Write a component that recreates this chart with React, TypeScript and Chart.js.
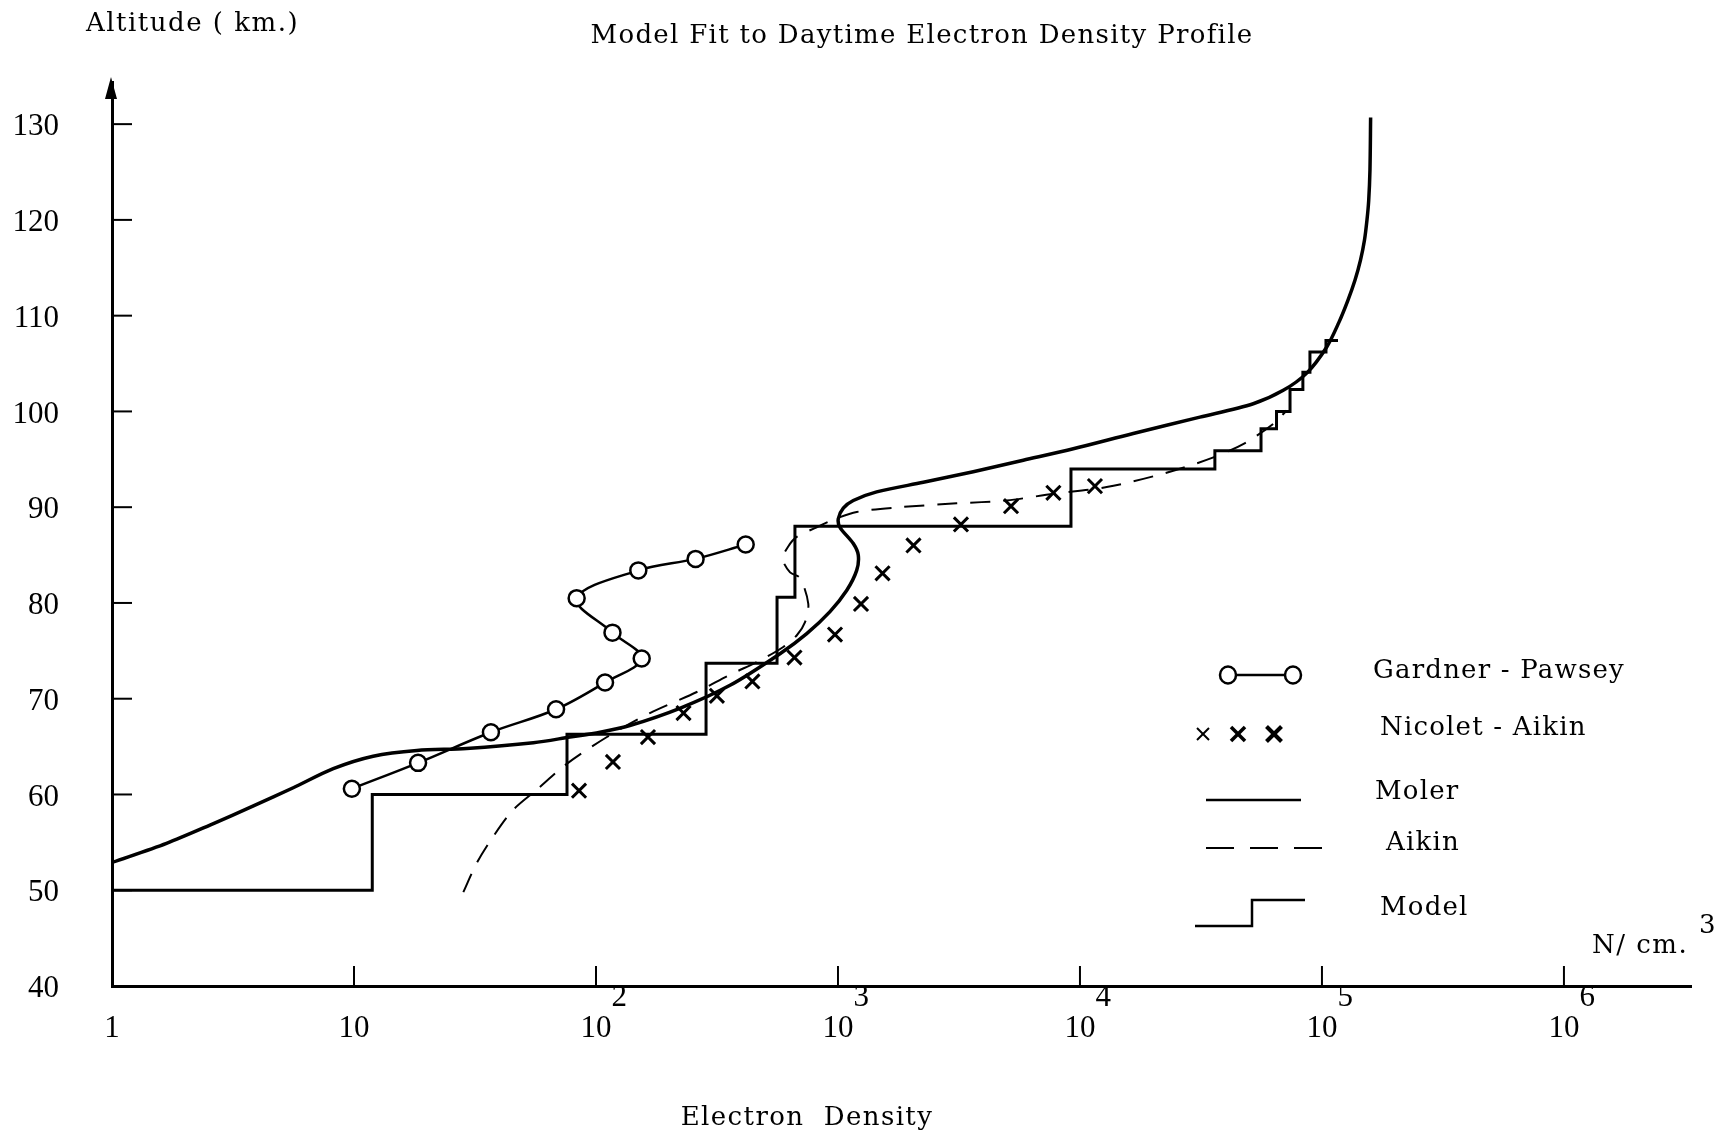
import { useEffect, useRef } from "react";
import { Chart, registerables } from "chart.js";

Chart.register(...registerables);

const W = 1722;
const H = 1137;

// ---- axis ticks ----
const xTickValues = [1, 10, 100, 1000, 10000, 100000, 1000000];
const xTickBases = ["1", "10", "10", "10", "10", "10", "10"];
const xTickExponents = ["", "", "2", "3", "4", "5", "6"];
const yTickValues = [40, 50, 60, 70, 80, 90, 100, 110, 120, 130];

// ---- texts ----
const titleText = "Model Fit to Daytime Electron Density Profile";
const yAxisTitle = "Altitude ( km.)";
const xAxisTitle = "Electron  Density";
const unitText = "N/ cm.";
const unitExp = "3";
const legendLabels = ["Gardner - Pawsey", "Nicolet - Aikin", "Moler", "Aikin", "Model"];

// ---- Gardner - Pawsey (circles joined by a line) ----
const gardnerDensity = [9.8, 18.4, 36.8, 68.4, 109, 154.5, 117, 83.2, 149.6, 258, 415.6];
const gardnerAltitude = [60.6, 63.3, 66.5, 68.9, 71.7, 74.2, 76.9, 80.5, 83.4, 84.6, 86.1];

// ---- Nicolet - Aikin (crosses) ----
const nicoletDensity = [85.1, 117.5, 164, 230, 316, 443, 661, 972, 1245, 1528, 2051, 3222, 5188, 7766, 11530];
const nicoletAltitude = [60.4, 63.4, 66.0, 68.5, 70.3, 71.8, 74.3, 76.7, 79.9, 83.1, 86.0, 88.2, 90.1, 91.5, 92.2];

// ---- Moler (solid curve) ----
const molerDensity = [
  1, 1.68, 2.54, 3.84, 5.61, 8.21, 12.0, 18.2, 29.2, 55.1, 78.1, 104, 138, 222, 358, 576, 743, 927,
  1086, 1195, 1213, 1157, 1019, 1003, 1052, 1157, 1445, 2253, 3622, 5833, 9384, 16600, 31300, 52000,
  69200, 86500, 104500, 117500, 128000, 136900, 144300, 149900, 153500, 156000, 157900, 158900,
];
const molerAltitude = [
  52.9, 54.9, 56.8, 58.8, 60.7, 62.7, 64.0, 64.6, 64.8, 65.4, 66.0, 66.5, 67.2, 69.0, 71.4, 74.7, 76.8, 79.1,
  81.3, 83.4, 85.0, 86.2, 87.9, 88.8, 89.9, 90.7, 91.6, 92.6, 93.7, 94.9, 96.1, 97.7, 99.4, 100.8,
  102.2, 104.0, 106.7, 109.3, 111.6, 113.7, 115.8, 117.9, 120.0, 122.0, 125.2, 130.7,
];

// ---- Aikin (dashed curve) ----
const aikinDensity = [
  28.3, 32.1, 37.6, 45.5, 56.9, 75.7, 111, 167, 261, 358, 476, 594, 675, 731, 754, 697, 634, 591, 623,
  675, 817, 957, 1195, 1804, 3092, 4979, 7762, 12900, 22800, 35600, 48100, 62900, 71500,
];
const aikinAltitude = [
  49.8, 52.8, 55.6, 58.4, 60.5, 63.2, 66.0, 68.5, 70.7, 72.5, 74.0, 75.4, 76.6, 78.0, 79.9, 82.6, 83.2, 84.6, 85.9,
  86.9, 87.9, 88.7, 89.5, 90.0, 90.4, 90.7, 91.4, 92.1, 93.6, 95.2, 96.7, 98.7, 100.1,
];

// ---- Model (step profile; horizontal then vertical to each point) ----
const modelDensity = [1, 11.9, 75.9, 285, 560, 664, 9180, 36100, 56000, 64900, 73800, 83400, 89200, 103900, 116500];
const modelAltitude = [50, 60, 66.3, 73.7, 80.6, 88, 94, 95.9, 98.2, 100, 102.3, 104.1, 106.2, 107.4, 107.4];

const toPoints = (xs: number[], ys: number[]) => xs.map((x, i) => ({ x, y: ys[i] }));

const SERIF = "'DejaVu Serif', serif";
const TICK_FONT = "'Liberation Serif', 'Times New Roman', serif";
const EXP_PAD = "      ";

const annotationPlugin = {
  id: "annotations",
  afterDraw(chart: any) {
    const ctx: CanvasRenderingContext2D = chart.ctx;
    const { left, top, bottom } = chart.chartArea;
    const xs = chart.scales.x;
    const ys = chart.scales.y;
    ctx.save();
    ctx.strokeStyle = "#000";
    ctx.fillStyle = "#000";
    ctx.lineCap = "butt";

    const line = (x1: number, y1: number, x2: number, y2: number) => {
      ctx.beginPath();
      ctx.moveTo(x1, y1);
      ctx.lineTo(x2, y2);
      ctx.stroke();
    };

    // inward tick marks
    ctx.lineWidth = 2;
    for (const v of xTickValues) {
      if (v === xTickValues[0]) continue;
      const px = xs.getPixelForValue(v);
      line(px, bottom, px, bottom - 20);
    }
    for (const v of yTickValues) {
      if (v === yTickValues[0]) continue;
      const py = ys.getPixelForValue(v);
      line(left, py, left + 20, py);
    }

    // arrow head on the altitude axis
    ctx.beginPath();
    ctx.moveTo(left - 1, top - 5);
    ctx.lineTo(left - 7, top + 17);
    ctx.lineTo(left + 5, top + 17);
    ctx.closePath();
    ctx.fill();

    // texts
    const text = (s: string, x: number, y: number, size: number, align: CanvasTextAlign, spacing = "1.2px") => {
      ctx.font = `${size}px ${SERIF}`;
      (ctx as any).letterSpacing = spacing;
      ctx.textAlign = align;
      ctx.textBaseline = "middle";
      ctx.fillText(s, x, y);
    };
    text(titleText, 922, 36, 26, "center", "1.3px");
    text(yAxisTitle, 86, 24, 26, "left", "1.5px");
    text(xAxisTitle, 807, 1118, 26, "center", "1.4px");
    text(unitText, 1592, 946, 26, "left", "1.5px");
    text(unitExp, 1699, 926, 26, "left", "0px");

    // legend
    ctx.lineWidth = 2.5;
    ctx.setLineDash([]);
    // Gardner - Pawsey
    line(1228, 675, 1293, 675);
    for (const cx of [1228, 1293]) {
      ctx.beginPath();
      ctx.ellipse(cx, 675, 8, 8.5, 0, 0, Math.PI * 2);
      ctx.fillStyle = "#fff";
      ctx.fill();
      ctx.stroke();
    }
    ctx.fillStyle = "#000";
    // Nicolet - Aikin crosses
    const cross = (cx: number, cy: number, r: number, lw: number) => {
      ctx.lineWidth = lw;
      line(cx - r, cy - r, cx + r, cy + r);
      line(cx - r, cy + r, cx + r, cy - r);
    };
    cross(1203, 734, 6, 2);
    cross(1238, 734, 7, 3.5);
    cross(1274, 734, 7.5, 4);
    // Moler
    ctx.lineWidth = 2.5;
    line(1206, 800, 1301, 800);
    // Aikin
    ctx.lineWidth = 2;
    ctx.setLineDash([28, 16]);
    line(1206, 848, 1330, 848);
    ctx.setLineDash([]);
    // Model
    ctx.lineWidth = 2.5;
    ctx.beginPath();
    ctx.moveTo(1195, 926);
    ctx.lineTo(1252, 926);
    ctx.lineTo(1252, 900);
    ctx.lineTo(1305, 900);
    ctx.stroke();

    const legendY = [671, 728, 792, 843, 908];
    const legendX = [1373, 1380, 1375, 1386, 1380];
    legendLabels.forEach((s, i) => text(s, legendX[i], legendY[i], 26, "left", "1.2px"));

    ctx.restore();
  },
};

export default function App() {
  const ref = useRef<HTMLCanvasElement>(null);

  useEffect(() => {
    if (!ref.current) return;
    const chart = new Chart(ref.current, {
      type: "scatter",
      data: {
        datasets: [
          {
            label: legendLabels[0],
            data: toPoints(gardnerDensity, gardnerAltitude),
            showLine: true,
            borderColor: "#000",
            borderWidth: 2.5,
            tension: 0.35,
            pointStyle: "circle",
            pointRadius: 8,
            pointBorderWidth: 2.5,
            pointBackgroundColor: "#fff",
            pointBorderColor: "#000",
          },
          {
            label: legendLabels[1],
            data: toPoints(nicoletDensity, nicoletAltitude),
            showLine: false,
            pointStyle: "crossRot",
            pointRadius: 10,
            pointBorderWidth: 3,
            borderColor: "#000",
            pointBorderColor: "#000",
          },
          {
            label: legendLabels[2],
            data: toPoints(molerDensity, molerAltitude),
            showLine: true,
            borderColor: "#000",
            borderWidth: 3.5,
            tension: 0.3,
            pointRadius: 0,
          },
          {
            label: legendLabels[3],
            data: toPoints(aikinDensity, aikinAltitude),
            showLine: true,
            borderColor: "#000",
            borderWidth: 2,
            borderDash: [20, 13],
            tension: 0.3,
            pointRadius: 0,
          },
          {
            label: legendLabels[4],
            data: toPoints(modelDensity, modelAltitude),
            showLine: true,
            stepped: true,
            borderColor: "#000",
            borderWidth: 3,
            tension: 0,
            pointRadius: 0,
          },
        ],
      },
      options: {
        responsive: false,
        animation: false,
        events: [],
        layout: { padding: { top: 82, right: 31, left: 0, bottom: 0 } },
        plugins: {
          legend: { display: false },
          title: { display: false },
          tooltip: { enabled: false },
        },
        scales: {
          x: {
            type: "logarithmic",
            position: "bottom",
            min: 1,
            max: 3.35e6,
            grid: { display: false, drawTicks: false },
            border: { display: true, color: "#000", width: 3 },
            afterBuildTicks: (scale: any) => {
              scale.ticks = xTickValues.map((v) => ({ value: v }));
            },
            afterFit: (scale: any) => {
              scale.height = 151;
            },
            ticks: {
              autoSkip: false,
              maxRotation: 0,
              minRotation: 0,
              color: "#000",
              padding: -4,
              font: { family: TICK_FONT, size: 31, lineHeight: 1.0 },
              callback: (value: any) => {
                const i = xTickValues.indexOf(Number(value));
                if (i < 0) return "";
                return [EXP_PAD + xTickExponents[i], xTickBases[i]];
              },
            },
          },
          y: {
            type: "linear",
            position: "left",
            min: 40,
            max: 134.4,
            grid: { display: false, drawTicks: false },
            border: { display: true, color: "#000", width: 3 },
            afterBuildTicks: (scale: any) => {
              scale.ticks = yTickValues.map((v) => ({ value: v }));
            },
            afterFit: (scale: any) => {
              scale.width = 112;
            },
            ticks: {
              autoSkip: false,
              color: "#000",
              padding: 53,
              labelOffset: 3,
              font: { family: TICK_FONT, size: 31 },
              callback: (value: any) => String(value),
            },
          },
        },
      },
      plugins: [annotationPlugin],
    } as any);
    return () => chart.destroy();
  }, []);

  return (
    <div style={{ position: "absolute", left: 0, top: 0, width: W, height: H, background: "#fff" }}>
      <canvas ref={ref} width={W} height={H} style={{ width: W, height: H, display: "block" }} />
    </div>
  );
}
